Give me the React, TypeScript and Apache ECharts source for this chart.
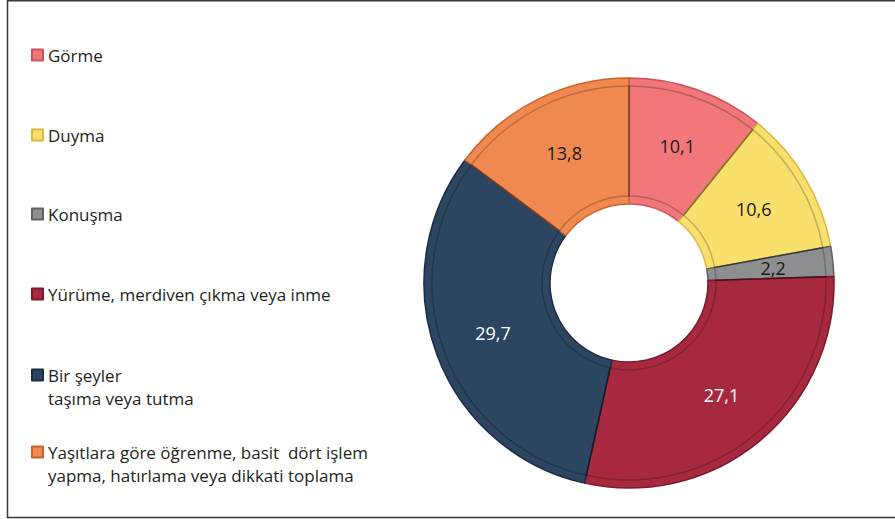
import React, { useEffect, useRef } from "react";
import * as echarts from "echarts";

const categories = [
  "Görme",
  "Duyma",
  "Konuşma",
  "Yürüme, merdiven çıkma veya inme",
  "Bir şeyler\ntaşıma veya tutma",
  "Yaşıtlara göre öğrenme, basit  dört işlem\nyapma, hatırlama veya dikkati toplama",
];
const values = [10.1, 10.6, 2.2, 27.1, 29.7, 13.8];
const colors = ["#F2777B", "#F9DF6C", "#8C8E90", "#A7293F", "#2C4561", "#F0894F"];
const borderColors = ["#C9545A", "#D9B940", "#5F6163", "#7A1A2C", "#1B2D42", "#C8652E"];
const labelColors = ["#1a1a1a", "#1a1a1a", "#1a1a1a", "#ffffff", "#ffffff", "#1a1a1a"];
const legendCenters = [55, 135, 214, 294, 375, 452];

export default function App() {
  const ref = useRef<HTMLDivElement>(null);
  useEffect(() => {
    const chart = echarts.init(ref.current!, undefined, { renderer: "svg" });
    const font = "'Open Sans', 'Noto Sans', sans-serif";
    const textColor = "#231f20";
    const legendLeft = 31;
    const legends = categories.map((name, i) => ({
      orient: "vertical",
      left: legendLeft,
      top: legendCenters[i] - 11.5,
      padding: 0,
      itemWidth: 11,
      itemHeight: 11,
      icon: "rect",
      selectedMode: false,
      data: [name],
      formatter: (n: string) => n.split("\n")[0],
      textStyle: {
        fontSize: 17,
        lineHeight: 23,
        color: textColor,
        fontFamily: font,
      },
      itemGap: 0,
    }));
    const secondLines: any[] = [];
    categories.forEach((name, i) => {
      const parts = name.split("\n");
      if (parts.length > 1) {
        secondLines.push({
          type: "text",
          x: legendLeft + 17,
          y: legendCenters[i] + 23,
          style: {
            text: parts[1],
            fontSize: 17,
            fontFamily: font,
            fill: textColor,
            verticalAlign: "middle",
            align: "left",
          },
        });
      }
    });
    const data = categories.map((name, i) => ({
      name,
      value: values[i],
      itemStyle: {
        color: colors[i],
        borderColor: borderColors[i],
        borderWidth: 1.5,
      },
      label: { color: labelColors[i] },
    }));
    chart.setOption({
      animation: false,
      backgroundColor: "#ffffff",
      legend: legends,
      graphic: [
        { type: "line", shape: { x1: 7.5, y1: 0, x2: 7.5, y2: 518 }, style: { stroke: "#3a3a3a", lineWidth: 1.5 } },
        { type: "line", shape: { x1: 7, y1: 0.75, x2: 895, y2: 0.75 }, style: { stroke: "#3a3a3a", lineWidth: 1.5 } },
        { type: "line", shape: { x1: 7, y1: 517.5, x2: 895, y2: 517.5 }, style: { stroke: "#3a3a3a", lineWidth: 1.5 } },
        ...secondLines,
      ],
      series: [
        {
          type: "pie",
          center: [629, 283],
          radius: [79, 205],
          startAngle: 90,
          clockwise: true,
          avoidLabelOverlap: false,
          label: {
            show: true,
            position: "inside",
            fontSize: 18,
            fontFamily: font,
            formatter: (p: any) => String(p.value).replace(".", ","),
          },
          labelLine: { show: false },
          emphasis: { disabled: true },
          data,
        },
        {
          type: "pie",
          center: [629, 283],
          radius: [87, 197],
          startAngle: 90,
          clockwise: true,
          silent: true,
          label: { show: false },
          labelLine: { show: false },
          emphasis: { disabled: true },
          data: categories.map((name, i) => ({
            name,
            value: values[i],
            itemStyle: {
              color: "rgba(0,0,0,0)",
              borderColor: "rgba(0,0,0,0.22)",
              borderWidth: 1.5,
            },
          })),
        },
      ],
    });
    return () => chart.dispose();
  }, []);
  return (
    <div
      ref={ref}
      style={{ position: "fixed", left: 0, top: 0, width: 895, height: 519 }}
    />
  );
}
